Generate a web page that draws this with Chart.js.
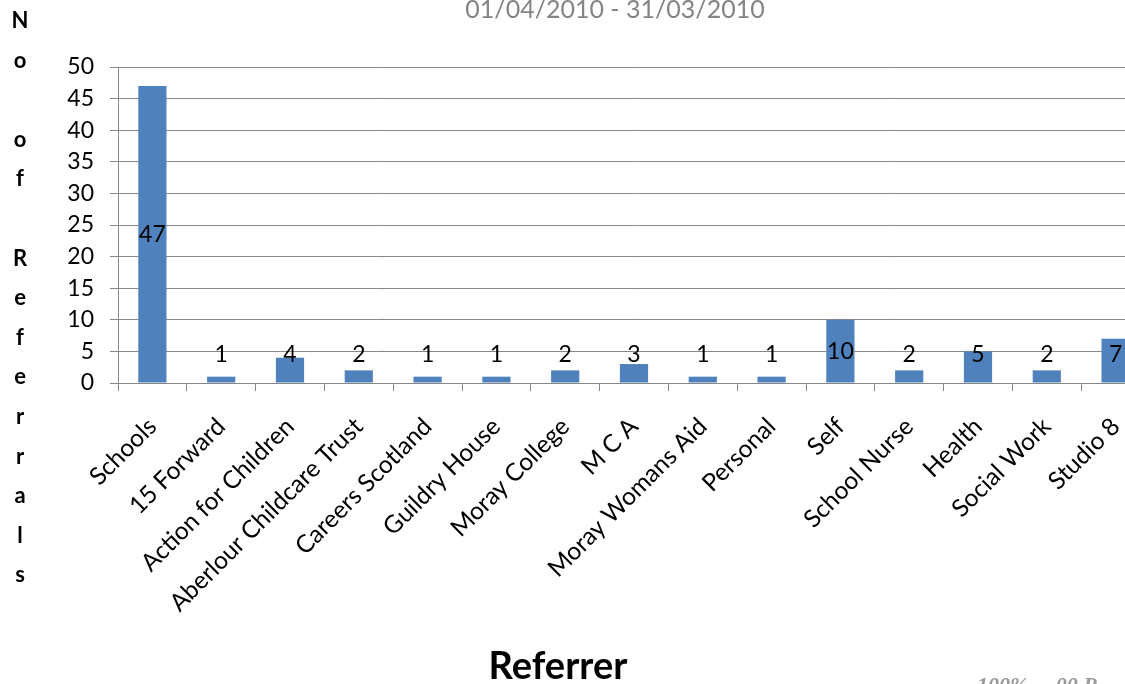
<!DOCTYPE html>
<html>
<head>
<meta charset="utf-8">
<script src="https://cdn.jsdelivr.net/npm/chart.js@4.4.0/dist/chart.umd.min.js"></script>
<style>
  html, body { margin: 0; padding: 0; background: #fff; }
  body { width: 1125px; height: 684px; overflow: hidden; position: relative; }
  #c { position: absolute; left: 0; top: 0; }
  .t { position: absolute; white-space: pre; font-family: Lato, "Open Sans", sans-serif; }
  #title { left: 415px; width: 400px; top: -4px; text-align: center; font-size: 25px; line-height: 25px; color: #848484; }
  #ytitle { left: 0; width: 40px; top: 0px; text-align: center; font-size: 22px; font-weight: bold; line-height: 39.6px; color: #000; }
  #xtitle { left: 408px; width: 300px; top: 645px; text-align: center; font-size: 38px; line-height: 38px; font-weight: bold; color: #000; }
  #note { left: 977px; top: 674px; font-family: "Liberation Serif", serif; font-style: italic; font-weight: bold; font-size: 22px; line-height: 22px; color: #9a9a9a; }
</style>
</head>
<body>
<canvas id="c" width="1160" height="684"></canvas>
<div class="t" id="title">01/04/2010 - 31/03/2010</div>
<div class="t" id="ytitle">N
o

o
f

R
e
f
e
r
r
a
l
s</div>
<div class="t" id="xtitle">Referrer</div>
<div class="t" id="note">100%     00 P</div>
<script>
const categories = ["Schools", "15 Forward", "Action for Children", "Aberlour Childcare Trust", "Careers Scotland", "Guildry House", "Moray College", "M C A", "Moray Womans Aid", "Personal", "Self", "School Nurse", "Health", "Social Work", "Studio 8"];
const referrals = [47, 1, 4, 2, 1, 1, 2, 3, 1, 1, 10, 2, 5, 2, 7];
const yMin = 0;
const yMax = 50;
const yStep = 5;

const gridColor = '#878787';
const tickFont = { family: 'Lato, "Open Sans", sans-serif', size: 23 };
const xTickFont = { family: 'Lato, "Open Sans", sans-serif', size: 24.5 };

const valueLabels = {
  id: 'valueLabels',
  afterDatasetsDraw(chart) {
    const ctx = chart.ctx;
    const meta = chart.getDatasetMeta(0);
    ctx.save();
    ctx.font = '23px Lato, "Open Sans", sans-serif';
    ctx.fillStyle = '#000';
    ctx.textAlign = 'center';
    ctx.textBaseline = 'middle';
    meta.data.forEach((bar, i) => {
      const center = (bar.y + bar.base) / 2;
      const y = Math.min(center, bar.base - 28);
      ctx.fillText(String(chart.data.datasets[0].data[i]), bar.x, y);
    });
    ctx.restore();
  }
};

new Chart(document.getElementById('c'), {
  type: 'bar',
  data: {
    labels: categories,
    datasets: [{
      data: referrals,
      backgroundColor: '#4F81BD',
      borderWidth: 0,
      barPercentage: 0.41,
      categoryPercentage: 1.0
    }]
  },
  options: {
    responsive: false,
    animation: false,
    layout: { padding: { left: 0, top: 67, right: 10, bottom: 0 } },
    plugins: { legend: { display: false }, tooltip: { enabled: false }, title: { display: false } },
    scales: {
      x: {
        afterFit: s => { s.height = 301; },
        grid: { display: true, drawOnChartArea: false, drawTicks: true, tickLength: 8, color: gridColor, offset: true },
        border: { display: true, color: gridColor },
        ticks: { color: '#000', font: xTickFont, maxRotation: 45, minRotation: 45, autoSkip: false, padding: 21 }
      },
      y: {
        min: yMin, max: yMax,
        afterFit: s => { s.width = 118; },
        grid: { color: gridColor, drawTicks: true, tickLength: 8 },
        border: { display: true, color: gridColor },
        ticks: { stepSize: yStep, color: '#000', font: tickFont, padding: 16 }
      }
    }
  },
  plugins: [valueLabels]
});
</script>
</body>
</html>
